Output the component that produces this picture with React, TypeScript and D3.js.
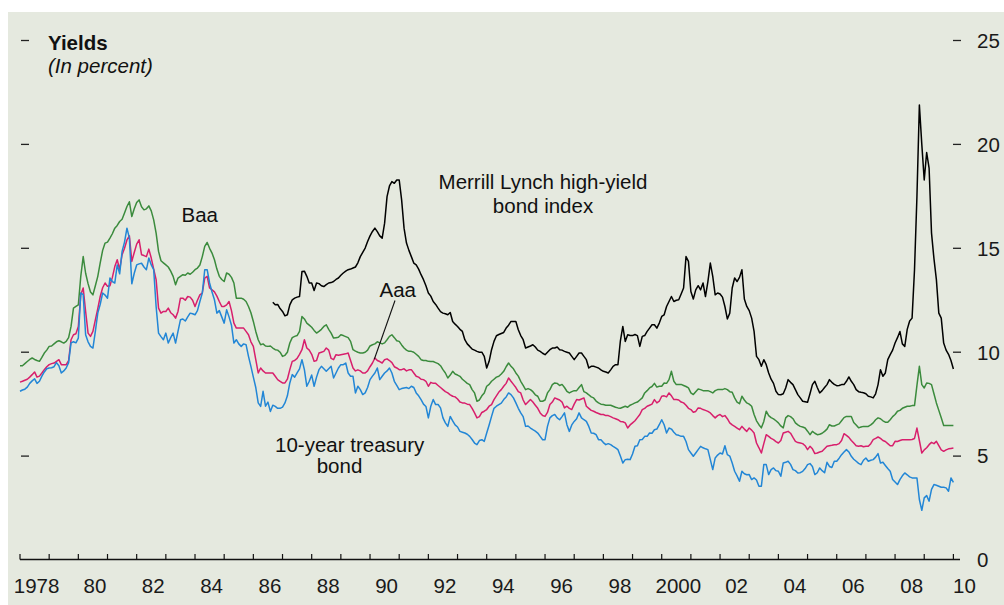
import React from "react";
import * as d3 from "d3";

// Monthly yields, percent. Jan 1978 .. Jan 2010
const treasury10y = [
  8.12, 8.18, 8.22, 8.32, 8.5, 8.62, 8.72, 8.5, 8.6, 8.85, 9.05, 9.2,
  9.24, 9.25, 9.3, 9.5, 9.35, 9.0, 9.1, 9.24, 9.5, 10.45, 10.5, 10.45,
  10.68, 12.85, 12.77, 10.84, 10.5, 10.28, 10.2, 11.0, 11.88, 12.3, 12.85, 12.75,
  12.6, 13.57, 13.4, 13.33, 14.2, 13.77, 14.85, 15.3, 15.97, 15.49, 13.29, 13.8,
  14.2, 14.25, 14.28, 14.1, 13.97, 14.53, 14.2, 13.97, 12.2, 10.92, 10.75, 10.6,
  10.92, 10.44, 10.7, 10.92, 10.44, 11.0, 11.56, 11.6, 11.5, 11.7, 11.88, 11.85,
  11.8, 12.0, 12.44, 12.85, 13.97, 13.97, 13.33, 12.9, 12.52, 11.88, 12.0, 11.7,
  11.4, 12.04, 11.7, 11.3, 10.44, 10.6, 10.4, 10.28, 10.4, 10.36, 9.8, 9.32,
  8.8, 8.3, 7.56, 7.39, 8.12, 7.4, 7.6, 7.15, 7.45, 7.39, 7.3, 7.3,
  7.36, 7.56, 7.9, 8.52, 8.92, 8.8, 9.0, 9.2, 9.64, 9.16, 8.36, 8.6,
  8.9, 8.36, 8.8, 9.16, 9.32, 9.2, 9.08, 9.2, 9.32, 8.76, 9.0, 9.24,
  9.4, 9.4, 9.48, 9.0, 8.84, 8.84, 8.04, 8.36, 8.2, 7.96, 8.04, 8.3,
  8.68, 8.85, 9.0, 9.24, 8.68, 8.84, 9.0, 9.1, 9.24, 9.0, 8.6, 8.4,
  8.2, 8.25, 8.28, 8.3, 8.25, 8.36, 8.3, 8.04, 7.9, 7.72, 7.5, 7.39,
  6.84, 7.4, 7.72, 7.48, 7.48, 7.32, 6.84, 6.6, 6.43, 6.91, 6.7, 6.5,
  6.4, 6.19, 6.15, 6.11, 6.05, 5.95, 5.8, 5.63, 5.55, 5.75, 5.79, 5.71,
  6.11, 6.5, 6.91, 7.3, 7.4, 7.48, 7.55, 7.72, 7.85, 8.04, 7.96, 7.8,
  7.56, 7.3, 7.08, 6.9, 6.43, 6.45, 6.35, 6.27, 6.2, 6.11, 5.95, 5.79,
  5.79, 6.43, 6.84, 6.95, 7.0, 6.84, 6.75, 6.9, 7.08, 6.51, 6.19, 6.5,
  6.67, 6.8, 7.08, 6.84, 6.75, 6.67, 6.43, 6.11, 6.1, 6.03, 5.79, 5.79,
  5.65, 5.55, 5.6, 5.55, 5.47, 5.4, 5.31, 5.0, 4.67, 4.83, 4.85, 4.83,
  5.1, 5.47, 5.5, 5.79, 5.8, 5.95, 5.95, 6.11, 6.1, 6.27, 6.3, 6.51,
  6.75, 6.51, 6.11, 6.35, 6.3, 6.15, 6.03, 6.0, 5.95, 5.95, 5.7, 5.31,
  5.15, 4.99, 5.15, 5.31, 5.47, 5.4, 5.35, 5.31, 4.83, 4.35, 4.91, 5.05,
  5.15, 5.1, 5.5, 5.07, 5.0, 4.67, 4.27, 4.05, 3.79, 4.27, 4.15, 4.1,
  4.11, 3.87, 3.95, 3.85, 3.55, 3.55, 4.59, 4.59, 4.11, 4.35, 4.43, 4.3,
  4.27, 4.03, 4.67, 4.7, 4.75, 4.6, 4.35, 4.3, 4.19, 4.2, 4.27, 4.4,
  4.59, 4.64, 4.5, 4.11, 4.2, 4.43, 4.3, 4.2, 4.7, 4.5, 4.45, 4.75,
  4.75, 4.9, 5.07, 5.2, 5.31, 5.2, 4.99, 4.85, 4.75, 4.65, 4.59, 4.8,
  4.91, 4.75, 4.8, 4.83, 4.95, 5.12, 4.67, 4.7, 4.55, 4.4, 4.27, 3.87,
  3.75, 3.63, 3.87, 4.05, 4.19, 4.1, 4.0, 3.95, 3.95, 3.95, 2.91, 2.39,
  2.99, 3.1, 2.83, 3.4, 3.63, 3.6, 3.55, 3.5, 3.5, 3.47, 3.31, 3.95,
  3.74,
];

const aaa = [
  8.56, 8.6, 8.65, 8.7, 8.8, 8.92, 9.05, 8.8, 8.85, 9.0, 9.16, 9.3,
  9.4, 9.45, 9.48, 9.56, 9.64, 9.4, 9.4, 9.4, 9.6, 10.6, 10.84, 10.89,
  11.24, 12.76, 13.09, 11.96, 10.92, 10.76, 11.0, 11.56, 12.1, 12.68, 13.1, 13.33,
  13.17, 13.2, 13.6, 14.12, 14.45, 13.97, 14.69, 15.0, 15.4, 15.6, 14.37, 14.8,
  15.2, 15.41, 14.69, 14.65, 14.6, 14.96, 14.53, 14.0, 13.49, 12.12, 11.88, 11.96,
  11.96, 12.12, 11.9, 11.8, 11.64, 11.96, 12.6, 12.6, 12.5, 12.68, 12.65, 12.5,
  12.2, 12.5, 12.76, 12.85, 13.57, 13.65, 13.09, 13.0, 12.9, 12.7, 12.44, 12.2,
  12.2, 12.28, 12.44, 12.0, 11.4, 11.16, 11.16, 11.16, 11.16, 11.0, 10.84, 10.5,
  10.28, 9.64, 9.0, 9.24, 9.1, 9.0, 9.0, 9.0, 9.0, 8.84, 8.68, 8.6,
  8.52, 8.52, 8.7, 9.16, 9.56, 9.6, 9.7, 9.9, 10.12, 10.6, 10.2, 10.1,
  9.9, 9.56, 9.6, 9.96, 10.0, 10.04, 10.2, 10.1, 9.7, 9.64, 9.88, 9.85,
  9.88, 9.9, 9.92, 9.96, 9.6, 9.24, 9.1, 9.15, 9.1, 9.0, 9.0, 9.1,
  9.3, 9.48, 9.72, 9.6, 9.55, 9.48, 9.64, 9.68, 9.6, 9.5, 9.3, 9.24,
  9.16, 9.16, 9.2, 9.1, 9.15, 9.16, 9.0, 8.84, 8.8, 8.7, 8.68, 8.6,
  8.36, 8.55, 8.5, 8.5, 8.4, 8.3, 8.2, 8.1, 8.04, 7.95, 7.88, 7.85,
  7.75, 7.6, 7.56, 7.55, 7.5, 7.48, 7.3, 7.08, 6.84, 6.9, 7.1, 7.16,
  7.24, 7.4, 7.48, 7.72, 7.9, 8.08, 8.2, 8.36, 8.5, 8.76, 8.6, 8.45,
  8.3, 8.1, 8.04, 7.7, 7.48, 7.6, 7.72, 7.6, 7.45, 7.3, 7.08, 6.95,
  6.91, 7.1, 7.48, 7.6, 7.8, 7.75, 7.7, 7.6, 7.32, 7.4, 7.3, 7.24,
  7.5, 7.72, 7.7, 7.75, 7.8, 7.4, 7.3, 7.2, 7.16, 7.1, 7.05, 7.0,
  7.0, 6.95, 6.95, 6.9, 6.84, 6.8, 6.75, 6.67, 6.65, 6.6, 6.35, 6.5,
  6.6, 6.7, 6.85, 7.0, 7.24, 7.3, 7.4, 7.45, 7.5, 7.72, 7.56, 7.64,
  7.88, 7.9, 7.85, 8.04, 7.9, 7.72, 7.72, 7.7, 7.6, 7.56, 7.45, 7.3,
  7.24, 7.11, 7.15, 7.32, 7.3, 7.24, 7.2, 7.15, 7.08, 6.95, 6.84, 6.95,
  7.0, 6.9, 6.95, 6.8, 6.6, 6.5, 6.43, 6.35, 6.27, 6.43, 6.3, 6.19,
  6.35, 6.25, 6.11, 5.63, 5.4, 5.15, 5.6, 6.03, 5.95, 5.85, 5.79, 5.7,
  5.63, 5.75, 6.11, 6.15, 6.19, 6.1, 5.9, 5.71, 5.65, 5.63, 5.6, 5.5,
  5.31, 5.47, 5.35, 5.12, 5.15, 5.2, 5.23, 5.35, 5.47, 5.5, 5.52, 5.55,
  5.55, 5.6, 5.75, 6.08, 6.0, 5.9, 5.75, 5.63, 5.5, 5.47, 5.5, 5.45,
  5.47, 5.47, 5.6, 5.79, 5.85, 5.92, 5.85, 5.75, 5.7, 5.6, 5.5, 5.5,
  5.71, 5.7, 5.75, 5.79, 5.79, 5.79, 5.79, 5.8, 5.85, 6.35, 5.75, 5.15,
  5.3, 5.4, 5.55, 5.66, 5.6, 5.71, 5.5, 5.3, 5.23, 5.3, 5.35, 5.37,
  5.39,
];

const baa = [
  9.35, 9.35, 9.45, 9.55, 9.65, 9.72, 9.65, 9.6, 9.56, 9.75, 9.96, 10.1,
  10.28, 10.3, 10.4, 10.5, 10.55, 10.5, 10.44, 10.52, 10.7, 11.24, 12.12, 12.2,
  12.28, 13.65, 14.6, 13.8, 13.3, 12.9, 12.76, 13.2, 13.65, 14.3, 14.9, 15.25,
  15.3, 15.49, 15.7, 15.97, 16.1, 16.29, 16.4, 16.7, 17.01, 17.24, 16.53, 16.9,
  17.2, 17.33, 17.0, 16.85, 16.9, 17.04, 16.8, 16.37, 15.73, 14.85, 14.4, 14.3,
  14.2, 14.1, 13.9, 13.65, 13.25, 13.57, 13.65, 13.73, 13.7, 13.81, 13.75, 13.85,
  13.97, 14.05, 14.2, 14.6, 15.09, 15.28, 15.0, 14.77, 14.45, 14.0, 13.65, 13.5,
  13.4, 13.81, 13.75, 13.6, 13.33, 12.6, 12.6, 12.6, 12.55, 12.44, 12.2, 11.9,
  11.48, 11.0, 10.6, 10.36, 10.4, 10.3, 10.28, 10.3, 10.2, 10.12, 10.1, 10.0,
  9.8, 9.85, 10.0, 10.44, 10.7, 10.76, 10.8, 11.0, 11.72, 11.6, 11.4, 11.3,
  11.2, 11.05, 10.92, 11.0, 11.1, 11.24, 11.32, 11.1, 10.92, 10.68, 10.7, 10.72,
  10.84, 10.8, 10.75, 10.7, 10.52, 10.12, 10.05, 10.0, 9.96, 9.96, 10.0, 10.1,
  10.3, 10.36, 10.4, 10.5, 10.45, 10.4, 10.45, 10.6, 10.76, 10.84, 10.7, 10.55,
  10.52, 10.35, 10.2, 10.1, 10.04, 10.04, 10.0, 9.9, 9.8, 9.64, 9.6, 9.6,
  9.56, 9.55, 9.55, 9.5, 9.45, 9.35, 9.16, 9.0, 8.76, 8.9, 9.08, 8.95,
  8.9, 8.84, 8.7, 8.6, 8.5, 8.44, 8.2, 8.04, 7.64, 7.7, 7.9, 8.04,
  8.36, 8.45, 8.6, 8.7, 8.8, 8.84, 8.95, 9.08, 9.3, 9.48, 9.32, 9.2,
  9.0, 8.85, 8.6, 8.4, 8.2, 8.25, 8.2, 8.1, 7.95, 7.88, 7.64, 7.64,
  7.7, 8.04, 8.2, 8.44, 8.52, 8.5, 8.4, 8.45, 8.3, 8.12, 8.04, 8.1,
  8.15, 8.15, 8.3, 8.44, 8.1, 8.04, 7.95, 7.85, 7.8, 7.65, 7.56, 7.5,
  7.48, 7.45, 7.45, 7.45, 7.4, 7.35, 7.32, 7.3, 7.35, 7.4, 7.35, 7.45,
  7.5, 7.56, 7.6, 7.7, 7.8, 8.04, 8.15, 8.28, 8.35, 8.5, 8.32, 8.36,
  8.36, 8.52, 8.5, 8.68, 9.08, 8.6, 8.44, 8.45, 8.45, 8.4, 8.35, 8.28,
  8.04, 7.96, 8.1, 8.23, 8.2, 8.15, 8.15, 8.15, 8.1, 8.04, 8.15, 8.2,
  8.2, 8.2, 8.25, 8.2, 8.1, 8.07, 7.8, 7.6, 7.52, 7.88, 7.7, 7.56,
  7.5, 7.4, 7.0, 6.7, 6.51, 6.36, 6.67, 7.16, 6.95, 6.85, 6.79, 6.7,
  6.6, 6.45, 6.36, 6.84, 6.95, 6.9, 6.8, 6.6, 6.5, 6.43, 6.4, 6.35,
  6.2, 6.03, 6.19, 6.1, 6.03, 6.05, 6.1, 6.19, 6.3, 6.51, 6.45, 6.45,
  6.5, 6.55, 6.7, 6.85, 6.91, 6.91, 6.91, 6.62, 6.5, 6.36, 6.4, 6.43,
  6.43, 6.43, 6.5, 6.6, 6.75, 6.84, 6.8, 6.7, 6.63, 6.63, 6.75, 6.9,
  7.0, 7.16, 7.2, 7.3, 7.35, 7.4, 7.4, 7.43, 7.43, 8.4, 9.32, 8.44,
  8.28, 8.52, 8.5, 8.44, 8.0, 7.56, 7.2, 6.85, 6.47, 6.47, 6.47, 6.47,
  6.47,
];

// Merrill Lynch high-yield index, Sep 1986 .. Jan 2010
const highYield = [
  12.4, 12.28, 12.3, 12.1,
  11.96, 11.75, 11.8, 12.28, 12.52, 12.6, 12.65, 12.68, 13.88, 13.9, 13.65, 13.33,
  13.33, 12.97, 13.33, 13.3, 13.2, 13.16, 13.25, 13.33, 13.35, 13.4, 13.5, 13.57,
  13.7, 13.81, 13.9, 13.97, 14.0, 14.05, 14.1, 14.3, 14.6, 14.8, 15.01, 15.33,
  15.6, 15.81, 15.97, 15.8, 15.6, 15.49, 16.21, 17.49, 18.0, 18.21, 18.13, 18.29,
  18.29, 17.33, 15.97, 15.25, 14.9, 14.6, 14.29, 14.2, 14.0, 13.73, 13.49, 13.2,
  12.85, 12.7, 12.44, 12.3, 12.12, 11.95, 11.88, 11.85, 11.8, 11.91, 11.48, 11.35,
  11.24, 11.1, 11.0, 10.6, 10.4, 10.28, 10.15, 10.1, 10.04, 10.0, 10.0, 9.8,
  9.24, 9.56, 10.12, 10.52, 10.79, 10.85, 10.9, 10.95, 11.16, 11.3, 11.48, 11.48,
  11.48, 11.08, 10.8, 10.6, 10.2, 10.25, 10.3, 10.36, 10.25, 10.1, 10.04, 9.95,
  9.88, 10.0, 10.12, 10.2, 10.2, 10.25, 10.12, 10.1, 10.04, 10.0, 9.96, 9.8,
  9.64, 9.8, 9.96, 9.96, 9.8, 9.64, 9.24, 9.32, 9.32, 9.28, 9.24, 9.15,
  9.08, 9.05, 9.0, 9.15, 9.32, 9.4, 9.4, 10.55, 11.24, 10.52, 10.84, 10.8,
  10.8, 10.85, 10.8, 10.28, 10.76, 10.8, 11.0, 11.16, 11.32, 11.32, 11.16, 11.4,
  11.72, 11.8, 12.2, 12.44, 12.68, 12.44, 12.5, 12.52, 12.8, 13.09, 14.6, 14.37,
  12.92, 12.56, 13.0, 13.2, 13.0, 13.33, 12.68, 13.4, 14.29, 13.65, 12.76, 12.85,
  12.8, 12.65, 12.2, 11.6, 11.88, 13.09, 13.57, 13.4, 13.6, 13.97, 12.56, 12.2,
  12.0, 11.64, 11.0, 9.8, 9.64, 9.32, 9.64, 9.4, 9.0, 8.7, 8.5, 8.12,
  7.96, 7.95, 8.0, 8.28, 8.68, 8.55, 8.44, 8.2, 7.96, 7.8, 7.64, 7.62,
  7.59, 8.0, 8.44, 8.6, 8.3, 8.04, 8.15, 8.3, 8.44, 8.68, 8.55, 8.45,
  8.39, 8.4, 8.44, 8.44, 8.6, 8.81, 8.6, 8.44, 8.2, 8.1, 8.07, 8.05,
  8.0, 7.88, 7.85, 7.8, 8.0, 8.44, 9.16, 8.84, 9.0, 9.64, 9.88, 10.1,
  10.44, 10.7, 11.0, 10.4, 10.28, 11.1, 11.5, 11.64, 13.97, 17.49, 21.9, 20.0,
  18.29, 19.61, 18.86, 15.73, 14.5, 13.49, 11.88, 11.64, 10.44, 10.1, 9.9, 9.6,
  9.19,
];

const yearTicks = d3.range(1978, 2011);
const yearLabels = [
  { year: 1978, text: "1978" }, { year: 1980, text: "80" }, { year: 1982, text: "82" },
  { year: 1984, text: "84" }, { year: 1986, text: "86" }, { year: 1988, text: "88" },
  { year: 1990, text: "90" }, { year: 1992, text: "92" }, { year: 1994, text: "94" },
  { year: 1996, text: "96" }, { year: 1998, text: "98" }, { year: 2000, text: "2000" },
  { year: 2002, text: "02" }, { year: 2004, text: "04" }, { year: 2006, text: "06" },
  { year: 2008, text: "08" }, { year: 2010, text: "10" },
];
const yTicks = [0, 5, 10, 15, 20, 25];

const W = 1004;
const H = 605;
const FONT = "'Liberation Sans', Arial, Helvetica, sans-serif";
const FS = 20.5;

const x = d3.scaleLinear().domain([1978, 2010]).range([20, 953.4]);
const y = d3.scaleLinear().domain([0, 25]).range([560, 40.5]);

type Pt = { t: number; v: number };
const toPts = (vals: number[], startYear: number, startMonth: number): Pt[] =>
  vals.map((v, i) => ({ t: startYear + (startMonth + i) / 12, v }));

const lineGen = d3
  .line<Pt>()
  .x((d) => x(d.t))
  .y((d) => y(d.v));

const series = [
  { name: "Baa", data: toPts(baa, 1978, 0), color: "#3b8b3d" },
  { name: "Aaa", data: toPts(aaa, 1978, 0), color: "#d81f6c" },
  { name: "10y", data: toPts(treasury10y, 1978, 0), color: "#2286d6" },
  { name: "HY", data: toPts(highYield, 1986, 8), color: "#000000" },
];

export default function App() {
  return (
    <div style={{ position: "fixed", left: 0, top: 0, width: W, height: H, overflow: "hidden", background: "#fff" }}>
      <svg width={W} height={H} style={{ display: "block" }} fontFamily={FONT}>
        <rect x={8} y={12} width={W - 8} height={H - 12} fill="#e5e9df" />

        {/* left ticks */}
        {yTicks.filter((t) => t > 0).map((t) => (
          <line key={"l" + t} x1={21} x2={29} y1={y(t)} y2={y(t)} stroke="#222" strokeWidth={1.3} />
        ))}
        {/* right ticks and labels */}
        {yTicks.filter((t) => t > 0).map((t) => (
          <line key={"r" + t} x1={953} x2={961} y1={y(t)} y2={y(t)} stroke="#222" strokeWidth={1.3} />
        ))}
        {yTicks.map((t) => (
          <text key={"rl" + t} x={977} y={y(t)} dy="0.36em" fontSize={FS} fill="#1a1a1a">
            {t}
          </text>
        ))}

        {/* x axis */}
        <line x1={20} x2={960} y1={559.5} y2={559.5} stroke="#111" strokeWidth={1.4} />
        {yearTicks.map((yr) => (
          <line key={"xt" + yr} x1={x(yr)} x2={x(yr)} y1={554} y2={559.5} stroke="#111" strokeWidth={1.2} />
        ))}
        {yearLabels.map((d) => (
          <text
            key={"xl" + d.year}
            x={d.year === 2010 ? x(2010) + 11 : x(d.year + 0.5) + 2}
            y={592.5}
            textAnchor="middle"
            fontSize={FS}
            fill="#1a1a1a"
          >
            {d.text}
          </text>
        ))}

        {/* series */}
        {series.map((s) => (
          <path key={s.name} d={lineGen(s.data) || ""} fill="none" stroke={s.color} strokeWidth={1.5} strokeLinejoin="round" />
        ))}

        {/* title */}
        <text x={48} y={49.5} fontSize={FS} fontWeight="bold" fill="#111">Yields</text>
        <text x={48} y={72.5} fontSize={FS} fontStyle="italic" fill="#111">(In percent)</text>

        {/* annotations */}
        <text x={181.5} y={221.7} fontSize={FS} fill="#111">Baa</text>
        <text x={543} y={189.3} fontSize={FS} textAnchor="middle" fill="#111">Merrill Lynch high-yield</text>
        <text x={543} y={213.3} fontSize={FS} textAnchor="middle" fill="#111">bond index</text>
        <text x={379.5} y={296.7} fontSize={FS} fill="#111">Aaa</text>
        <line x1={395} y1={300.5} x2={374.3} y2={359.3} stroke="#111" strokeWidth={1.1} />
        <text x={275} y={451.5} fontSize={FS} fill="#111">10-year treasury</text>
        <text x={316.7} y={472.8} fontSize={FS} fill="#111">bond</text>
      </svg>
    </div>
  );
}
